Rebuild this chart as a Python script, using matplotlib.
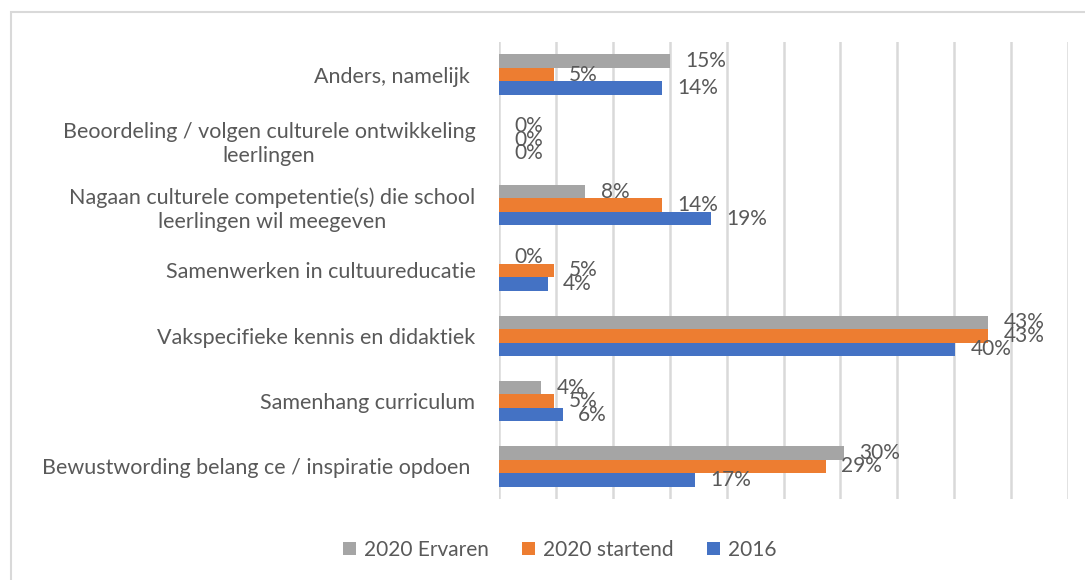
import numpy as np
import matplotlib.pyplot as plt
from matplotlib.patches import Rectangle

# Categories (top to bottom as shown)
categories = [
    'Anders, namelijk ',
    'Beoordeling / volgen culturele ontwikkeling\nleerlingen',
    'Nagaan culturele competentie(s) die school\nleerlingen wil meegeven',
    'Samenwerken in cultuureducatie',
    'Vakspecifieke kennis en didaktiek',
    'Samenhang curriculum',
    'Bewustwording belang ce / inspiratie opdoen ',
]
ervaren_2020 = [15.0, 0.0, 7.6, 0.0, 43.0, 3.7, 30.3]
startend_2020 = [4.8, 0.0, 14.3, 4.8, 43.0, 4.8, 28.7]
y2016 = [14.3, 0.0, 18.6, 4.3, 40.1, 5.6, 17.2]

series = [('2020 Ervaren', ervaren_2020, '#a5a5a5'),
          ('2020 startend', startend_2020, '#ed7d31'),
          ('2016', y2016, '#4472c4')]

text_color = '#595959'
plt.rcParams['font.family'] = ['Lato', 'DejaVu Sans']

W, H = 1085, 580
fig = plt.figure(figsize=(W / 100, H / 100), dpi=100)
ax = fig.add_axes([499 / W, 1 - 499 / H, (1068 - 499) / W, (499 - 42) / H])

n = len(categories)
pos = np.arange(n)
bar_h = 0.207
offsets = [-bar_h, 0, bar_h]

for (name, vals, color), off in zip(series, offsets):
    ax.barh(pos + off, vals, height=bar_h, color=color, label=name)
    for y, v in zip(pos + off, vals):
        ax.annotate(f'{v:.0f}%', (v, y), xytext=(11, 0), textcoords='offset points',
                    ha='left', va='center', fontsize=15, color=text_color)

ax.set_xlim(0, 50)
ax.set_ylim(n - 0.5, -0.5)
ax.set_xticks(np.arange(0, 51, 5))
ax.tick_params(axis='x', length=0, labelbottom=False)
ax.set_yticks(pos)
ax.set_yticklabels(categories, fontsize=15.5, color=text_color, ha='right',
                   multialignment='center', linespacing=1.25)
ax.tick_params(axis='y', length=0, pad=17)
ax.grid(axis='x', color='#d9d9d9', linewidth=1.8)
ax.set_axisbelow(True)
for s in ax.spines.values():
    s.set_visible(False)

# legend at bottom
handles, labels = ax.get_legend_handles_labels()
leg = fig.legend(handles, labels, loc='center', bbox_to_anchor=(560 / W, 1 - 550 / H),
                 ncol=3, frameon=False, fontsize=15, handlelength=0.6, handleheight=0.6,
                 handletextpad=0.4, columnspacing=1.6)
for t in leg.get_texts():
    t.set_color(text_color)

# chart frame
fig.patches.append(Rectangle((11 / W, -0.1), 1.2, 1 - 12 / H + 0.1, transform=fig.transFigure,
                             fill=False, edgecolor='#d9d9d9', linewidth=1.5))

plt.savefig('out.png', dpi=100)
plt.close()
